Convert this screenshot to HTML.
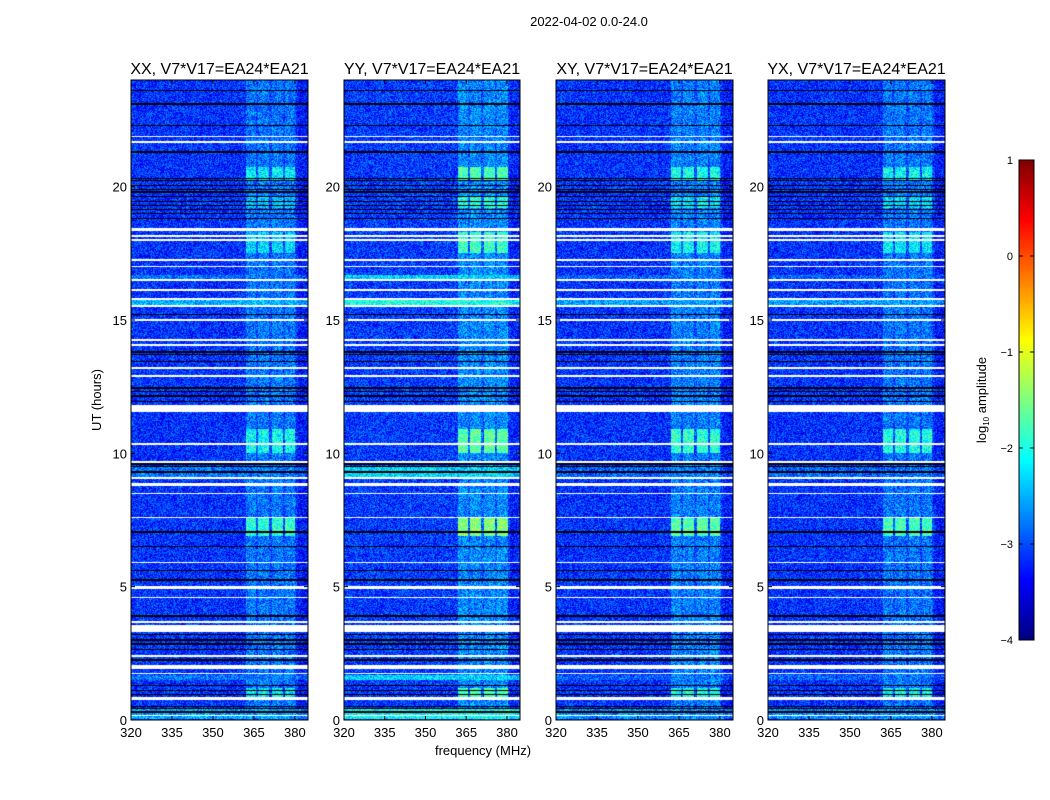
<!DOCTYPE html>
<html><head><meta charset="utf-8">
<style>
body{margin:0;background:#fff;font-family:"Liberation Sans",sans-serif;}
#wrap{position:relative;width:1050px;height:800px;overflow:hidden;background:#fff;}
canvas{position:absolute;}
svg{position:absolute;left:0;top:0;}
</style></head>
<body>
<div id="wrap">
<canvas id="c0" width="177" height="640" style="left:131px;top:80px"></canvas>
<canvas id="c1" width="176" height="640" style="left:344px;top:80px"></canvas>
<canvas id="c2" width="177" height="640" style="left:556px;top:80px"></canvas>
<canvas id="c3" width="177" height="640" style="left:768px;top:80px"></canvas>
<canvas id="cb" width="15" height="480" style="left:1019px;top:160px"></canvas>
<svg id="ov" width="1050" height="800"></svg>
</div>
<script>
const panelNames=['XX, V7*V17=EA24*EA21','YY, V7*V17=EA24*EA21','XY, V7*V17=EA24*EA21','YX, V7*V17=EA24*EA21'];
const freqTicks=[320,335,350,365,380];
const timeTicks=[0,5,10,15,20];
const cbTicks=[1,0,-1,-2,-3,-4];
const baseLevel=[-3.15,-3.1,-3.15,-3.15];
const panelGain=[0,0.45,0.2,0.1];
const bandCenters=[363.6,368.4,373.5,378.2];
const bandQuiet=[-2.8,-2.7,-2.75,-2.8];
const bursts=[[20.25,20.75,-2.2],[17.5,18.3,-2.3],[10.0,10.9,-2.1],[6.9,7.6,-1.9],[0.8,1.2,-2.2],[19.2,19.6,-2.4]];
const strips=[[16.45,16.7,-2.6],[15.5,15.8,-2.3],[9.1,9.5,-2.6],[3.3,3.55,-2.5],[0.05,0.4,-2.4],[1.5,1.7,-2.6]];
const stripGain=[0.1,0.6,0.0,0.0];
const whiteRows=[[21.85,21.9],[21.65,21.7],[18.35,18.45],[18.13,18.18],[17.98,18.03],[17.23,17.28],[16.98,17.03],[16.48,16.53],[16.1,16.15],[15.5,15.55],[15.75,15.82],[14.98,15.03],[14.23,14.28],[14.04,14.09],[13.18,13.23],[12.88,12.93],[11.55,11.8],[10.33,10.38],[9.65,9.7],[9.05,9.1],[8.77,8.88],[8.48,8.53],[7.58,7.63],[5.88,5.93],[4.93,5.02],[4.58,4.63],[3.65,3.7],[3.3,3.55],[2.38,2.43],[1.9,2.05],[1.73,1.78],[0.75,0.85],[0.16,0.2]];
const blackRows=[23.6,23.1,22.3,21.3,20.3,20.22,20.05,19.9,19.8,19.63,19.45,19.3,19.15,19.0,18.8,15.2,14.25,13.8,13.7,13.45,12.45,12.33,12.15,11.95,11.75,9.6,9.5,9.3,7.05,6.5,5.6,5.25,3.9,3.2,3.0,2.85,2.65,2.4,2.25,1.3,1.1,0.95,0.5,0.42,0.3];
const F0=320,F1=384.8,T0=0,T1=24;
function jet(x){let v=(x+4)/5;v=Math.max(0,Math.min(1,v));const c=t=>Math.round(255*Math.max(0,Math.min(1,1.5-Math.abs(t))));return [c(4*v-3),c(4*v-2),c(4*v-1)];}
function hash(a,b){let h=(a*374761393+b*668265263)|0;h=(h^(h>>>13))*1274126177|0;return ((h^(h>>>16))>>>0)/4294967295;}
function draw(p){
 const cv=document.getElementById('c'+p),ctx=cv.getContext('2d'),W=cv.width,H=cv.height;
 const img=ctx.createImageData(W,H);
 for(let y=0;y<H;y++){
  const h=T1-(y+0.5)/H*(T1-T0);
  let white=whiteRows.some(r=>h>=r[0]&&h<=r[1]);
  let black=blackRows.some(b=>Math.abs(h-b)<0.02);
  let burst=null;for(const b of bursts)if(h>=b[0]&&h<=b[1])burst=b[2];
  let strip=null;for(const s of strips)if(h>=s[0]&&h<=s[1])strip=s[2];
  for(let x=0;x<W;x++){
   const f=F0+(x+0.5)/W*(F1-F0);let o=(y*W+x)*4;
   if(white){img.data[o]=img.data[o+1]=img.data[o+2]=255;img.data[o+3]=255;continue;}
   if(black){img.data[o]=img.data[o+1]=img.data[o+2]=0;img.data[o+3]=255;continue;}
   let v=baseLevel[p];
   if(strip!==null)v=Math.max(v,strip+stripGain[p]-0.3);
   let inBand=bandCenters.some(c=>Math.abs(f-c)<2.0);
   let inRange=f>362&&f<380.5;
   if(inRange){v=Math.max(v,bandQuiet[p]-(inBand?0:0.2));
    if(burst!==null&&inBand)v=Math.max(v,burst+panelGain[p]);}
   if(f>381)v-=0.15;
   v+=(hash(x+p*1000,y)-0.5)*1.0;
   const c=jet(v);img.data[o]=c[0];img.data[o+1]=c[1];img.data[o+2]=c[2];img.data[o+3]=255;
  }
 }
 ctx.putImageData(img,0,0);
}
for(let p=0;p<4;p++)draw(p);
(function(){const cv=document.getElementById('cb'),ctx=cv.getContext('2d');for(let y=0;y<480;y++){const c=jet(1-(y+0.5)/480*5);ctx.fillStyle='rgb('+c+')';ctx.fillRect(0,y,15,1);}})();
const ov=document.getElementById('ov');const NS='http://www.w3.org/2000/svg';
function el(t,a,txt){const e=document.createElementNS(NS,t);for(const k in a)e.setAttribute(k,a[k]);if(txt!==undefined)e.textContent=txt;ov.appendChild(e);return e;}
const lefts=[131,344,556,768],widths=[177,176,177,177],top0=80,H=640;
for(let p=0;p<4;p++){
 const L=lefts[p],Wd=widths[p];
 const xs=f=>L+(f-F0)/(F1-F0)*Wd, ys=t=>top0+H-(t-T0)/(T1-T0)*H;
 const fr=el('rect',{x:L,y:top0,width:Wd,height:H,fill:'none',stroke:'#000','stroke-width':1});
 
 const t=el('text',{x:L+Wd/2,y:74,'text-anchor':'middle','font-size':16},panelNames[p]);
 
 freqTicks.forEach(f=>{const x=xs(f);el('line',{x1:x,x2:x,y1:top0+H,y2:top0+H-4,stroke:'#000'});el('line',{x1:x,x2:x,y1:top0,y2:top0+4,stroke:'#000'});
  const l=el('text',{x:x,y:top0+H+17,'text-anchor':'middle','font-size':13},String(f));});
 timeTicks.forEach(v=>{const y=ys(v);el('line',{x1:L,x2:L+4,y1:y,y2:y,stroke:'#000'});el('line',{x1:L+Wd,x2:L+Wd-4,y1:y,y2:y,stroke:'#000'});
  const l=el('text',{x:L-4,y:y+5,'text-anchor':'end','font-size':13},String(v));});
}
let e=el('text',{x:589,y:26,'text-anchor':'middle','font-size':13},'2022-04-02 0.0-24.0');
e=el('text',{x:483,y:755,'text-anchor':'middle','font-size':13},'frequency (MHz)');
e=el('text',{x:0,y:0,'text-anchor':'middle','font-size':13,transform:'translate(101,400) rotate(-90)'},'UT (hours)');
el('rect',{x:1019,y:160,width:15,height:480,fill:'none',stroke:'#000'});
cbTicks.forEach(v=>{const y=160+(1-v)/5*480;el('line',{x1:1019,x2:1023,y1:y,y2:y,stroke:'#000'});el('line',{x1:1034,x2:1030,y1:y,y2:y,stroke:'#000'});
 const l=el('text',{x:1013,y:y+4,'text-anchor':'end','font-size':11},v<0?'\u2212'+(-v):String(v));});
e=el('text',{x:0,y:0,'text-anchor':'middle','font-size':13,transform:'translate(986,400) rotate(-90)'});
e.innerHTML='log<tspan font-size="8" dy="3">10</tspan><tspan dy="-3"> amplitude</tspan>';

</script>
</body></html>
